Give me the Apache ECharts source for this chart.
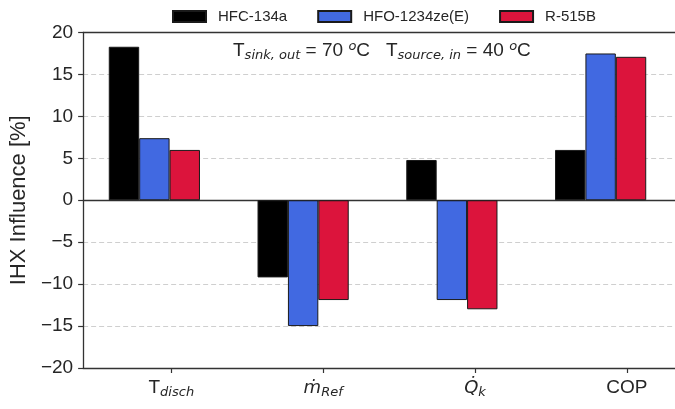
<!DOCTYPE html>
<html>
<head>
<meta charset="utf-8">
<script src="https://cdn.jsdelivr.net/npm/echarts@6/dist/echarts.min.js"></script>
<style>
  html, body { margin: 0; padding: 0; background: #fff; }
  #chart { width: 675px; height: 409px; }
</style>
</head>
<body>
<div id="chart"></div>
<script>
// 数据
const categories = ['{rm|T}{sub|disch}', '{it|ṁ}{sub|Ref}', '{it|Q̇}{sub|k}', '{rm|COP}']
const seriesNames = ['HFC-134a', 'HFO-1234ze(E)', 'R-515B']
const hfc134a = [18.3, -9.2, 4.8, 6.0]
const hfo1234ze = [7.4, -15.0, -11.9, 17.5]
const r515b = [6.0, -11.9, -13.0, 17.1]
const yTicks = [-20, -15, -10, -5, 0, 5, 10, 15, 20]
const tickIndex = [0, 1, 2, 3]

const colors = ['#000000', '#4169e1', '#dc143c']
const axisColor = '#333333'
const textColor = '#262626'
const sans = '"Liberation Sans", Arial, sans-serif'
const math = '"DejaVu Sans", sans-serif'

// 刻度轴范围（刻度落在蓝/红柱交界处）
const xMin = -0.5806
const xMax = 3.3167

// 下标/上标样式
const rm = { fontFamily: sans, fontSize: 19, fontWeight: 'normal', color: textColor, lineHeight: 22 }
const it = { fontFamily: math, fontSize: 18, fontStyle: 'italic', fontWeight: 'normal', color: textColor, lineHeight: 22 }
const sub = { fontFamily: math, fontSize: 13, fontStyle: 'italic', fontWeight: 'normal', color: textColor, lineHeight: 9, verticalAlign: 'bottom' }
const sup = { fontFamily: math, fontSize: 13, fontStyle: 'italic', fontWeight: 'normal', color: textColor, lineHeight: 19, verticalAlign: 'top' }

const chart = echarts.init(document.getElementById('chart'))

const barSeries = [hfc134a, hfo1234ze, r515b].map((vals, i) => ({
  name: seriesNames[i],
  type: 'bar',
  xAxisIndex: 3,
  yAxisIndex: 1,
  data: vals,
  barWidth: 30.4,
  barGap: '0%',
  itemStyle: {
    color: colors[i],
    borderColor: '#1a1a1a',
    borderWidth: 1,
  },
}))

const option = {
  animation: false,
  title: {
    left: 233,
    top: 40,
    padding: 0,
    text: '{t|T}{s|sink, out}{t| = 70 }{p|o}{t|C   T}{s|source, in}{t| = 40 }{p|o}{t|C}',
    textStyle: {
      fontWeight: 'normal',
      rich: { t: rm, s: sub, p: sup },
    },
  },
  legend: {
    left: 172,
    top: 9,
    padding: 0,
    icon: 'rect',
    itemWidth: 33,
    itemHeight: 11,
    itemGap: 30,
    data: seriesNames,
    textStyle: {
      fontFamily: sans,
      fontSize: 15,
      color: textColor,
      padding: [0, 0, 0, 7],
    },
  },
  grid: [
    // 坐标框
    { left: 83, right: 0, top: 32.5, bottom: 41 },
    // 柱子
    { left: 80, width: 607.6, top: 32.5, bottom: 41 },
  ],
  xAxis: [
    {
      gridIndex: 0,
      type: 'value',
      position: 'bottom',
      min: xMin,
      max: xMax,
      axisLine: { onZero: false, lineStyle: { color: axisColor, width: 1.3 } },
      axisTick: { show: true, length: 5, customValues: tickIndex, lineStyle: { color: axisColor, width: 1.2 } },
      axisLabel: {
        customValues: tickIndex,
        margin: 9,
        formatter: (v) => categories[Math.round(v)],
        rich: { rm: rm, it: it, sub: sub },
      },
      splitLine: { show: false },
    },
    {
      gridIndex: 0,
      type: 'value',
      position: 'top',
      min: xMin,
      max: xMax,
      axisLine: { onZero: false, lineStyle: { color: axisColor, width: 1.3 } },
      axisTick: { show: false },
      axisLabel: { show: false },
      splitLine: { show: false },
    },
    {
      // 零线
      gridIndex: 0,
      type: 'value',
      position: 'bottom',
      min: xMin,
      max: xMax,
      axisLine: { onZero: true, lineStyle: { color: axisColor, width: 1.3 } },
      axisTick: { show: false },
      axisLabel: { show: false },
      splitLine: { show: false },
    },
    {
      gridIndex: 1,
      type: 'category',
      data: categories,
      show: false,
    },
  ],
  yAxis: [
    {
      gridIndex: 0,
      type: 'value',
      min: yTicks[0],
      max: yTicks[yTicks.length - 1],
      interval: 5,
      name: 'IHX Influence [%]',
      nameLocation: 'middle',
      nameGap: 50,
      nameTextStyle: { fontFamily: sans, fontSize: 22, color: textColor },
      axisLine: { show: true, onZero: false, lineStyle: { color: axisColor, width: 1.3 } },
      axisTick: { show: true, length: 5, lineStyle: { color: axisColor, width: 1.2 } },
      axisLabel: {
        margin: 10,
        fontFamily: sans,
        fontSize: 19,
        color: textColor,
        formatter: (v) => String(v).replace('-', '\u2212'),
      },
      splitLine: { lineStyle: { type: [5, 3], color: '#cfcfcf', width: 1 } },
    },
    {
      gridIndex: 1,
      type: 'value',
      min: yTicks[0],
      max: yTicks[yTicks.length - 1],
      show: false,
      splitLine: { show: false },
    },
  ],
  series: barSeries,
}

chart.setOption(option)
</script>
</body>
</html>
